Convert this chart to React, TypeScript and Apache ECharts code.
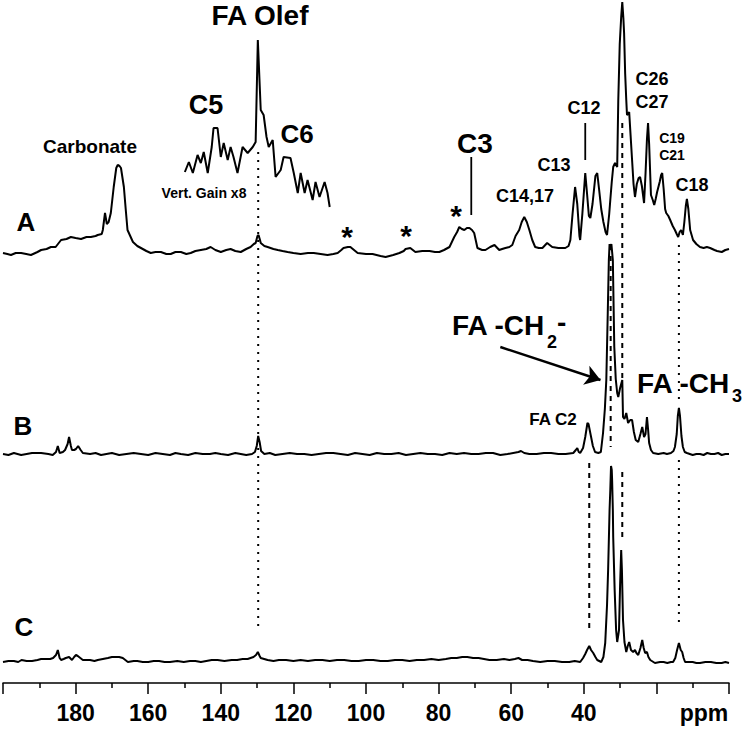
import React, { useEffect, useRef } from "react";
import * as echarts from "echarts";

// ---- Data (ppm, intensity above each trace's own baseline) ----
const xTickLabels = [40, 60, 80, 100, 120, 140, 160, 180];

const traceA: [number, number][] = [
  [200, 1], [198.8, 0], [197.8, -1], [196.5, 1], [195, 1], [193.6, 0], [192.3, -1], [190.5, 2], [189.5, 4], [188, 5], [186.8, 7], [185.5, 7],
  [184, 14], [182.5, 15], [181.3, 17], [180, 16], [178.5, 15], [177, 17], [175.8, 17], [174.5, 18], [173.9, 19],
  [172.8, 20], [172.5, 24], [171.9, 41], [171.4, 30], [170.9, 32], [170.3, 41], [169.5, 67], [168.8, 86],
  [168.4, 89], [167.9, 88], [167.5, 86], [166.7, 67], [166.2, 45], [165.7, 24], [164.2, 12], [163, 8], [162, 6],
  [160.5, 3], [159.3, 1], [158, 2], [156.5, 2], [155, 0], [153.8, 0], [152.5, 2], [151, 2], [149.5, 0],
  [148.3, 1], [147, 3], [145.5, 4], [144, 5], [142.8, 7], [141.5, 4], [140, 2], [138.5, 4], [137.3, 5],
  [136, 3], [134.5, 2], [133, 5], [131.8, 7], [130.9, 10], [130.4, 11], [129.9, 18], [129.6, 19], [129.2, 14],
  [129.0, 11], [128, 8], [127.1, 7], [125.5, 5], [124.3, 4], [123, 3], [121.6, 2], [120, 1], [118, 0],
  [116, 1], [114.4, 1], [112.5, 0], [110.6, -1], [109, 0], [107.8, 1], [106.8, 4], [106.2, 6], [105, 7],
  [104.3, 7], [103.3, 4], [102.3, 1], [100, 0], [98.2, 0], [96, -2], [94.6, -3], [92.5, -1], [90.8, 1],
  [89.6, 3], [89.1, 5], [87.8, 6], [86.4, 2], [84.5, 3], [82.5, 3], [81, 2], [79.8, 2], [78.5, 4], [77, 7],
  [75.7, 17], [74.9, 22], [74.3, 27], [73.6, 25], [72.9, 24], [72.2, 26], [71.5, 26], [70.8, 24], [70.2, 21],
  [69.3, 6], [68, 4], [67.1, 4], [65.8, 7], [64.6, 9], [63.3, 4], [62.5, 5], [61.6, 6], [60.5, 7], [59.7, 9],
  [58.8, 18], [57.8, 24], [57.1, 32], [56.4, 37], [55.7, 32], [55.0, 24], [54.2, 14], [53.4, 7], [52.4, 6],
  [51.4, 6], [50.1, 11], [48.7, 7], [47, 6], [45.1, 6], [44.2, 8], [43.7, 14], [43.1, 40], [42.4, 67],
  [41.8, 50], [41.2, 18], [41.0, 14], [40.4, 40], [39.6, 81], [39.1, 60], [38.6, 38], [38.2, 36], [37.6, 50],
  [36.8, 78], [36.3, 81], [35.8, 65], [35.2, 45], [34.6, 32], [34.0, 22], [33.6, 19], [33.0, 40], [32.7, 54],
  [32.3, 72], [31.9, 87], [31.4, 91], [30.8, 87], [30.5, 154], [30.1, 210], [29.7, 237], [29.4, 252],
  [29.1, 236], [28.9, 221], [28.6, 180], [28.3, 154], [28.1, 139], [27.8, 140], [27.5, 142], [27.1, 118],
  [26.7, 94], [26.3, 70], [25.9, 57], [25.4, 70], [24.9, 76], [24.5, 77], [24.0, 68], [23.4, 51], [23.0, 80],
  [22.6, 115], [22.3, 131], [22.0, 110], [21.5, 59], [21.0, 54], [20.6, 49], [20.2, 55], [19.8, 62],
  [19.1, 72], [18.7, 79], [18.4, 81], [18.0, 65], [17.6, 45], [17.3, 41], [16.7, 38], [16.2, 34], [15.5, 28],
  [14.9, 24], [14.4, 20], [14.0, 17], [13.6, 22], [13.2, 24], [12.7, 19], [12.3, 32], [11.9, 48], [11.6, 55],
  [11.2, 45], [10.7, 24], [9.9, 14], [9, 10], [8.0, 7], [7, 6], [6.1, 7], [5.2, 6], [4, 4], [3.3, 3], [2, 2], [1, 4], [0, 5],
];

const traceAGain: [number, number][] = [
  [149.9, 82], [148.8, 92], [147.7, 81], [146.4, 99], [145.5, 91], [144.7, 102], [143.6, 81], [142.5, 107],
  [142.0, 126], [140.9, 126], [140.0, 97], [139.2, 111], [138.1, 94], [137.3, 107], [136.5, 97], [135.4, 81],
  [134.0, 107], [132.6, 101], [131.2, 107], [130.4, 112], [129.8, 214], [129.0, 144], [128.2, 139],
  [127.4, 117], [126.8, 107], [125.7, 114], [124.9, 77], [123.5, 84], [122.7, 97], [120.8, 96], [119.9, 81],
  [118.8, 61], [118.0, 81], [116.9, 61], [116.1, 74], [114.7, 54], [113.9, 72], [112.8, 57], [111.4, 72],
  [110.6, 61], [110.0, 47],
];

const traceB: [number, number][] = [
  [200, 0], [198.5, -1], [197, 1], [195, -1], [193.5, 0], [192, 1], [189.5, 1], [187.5, 0], [186.3, -1], [185.4, 2], [184.9, 8],
  [184.4, 1], [183.5, 2], [182.9, 4], [182.2, 10], [181.8, 17], [181.3, 8], [181.0, 4], [180.4, 4],
  [179.9, 5], [179.3, 8], [178.6, 4], [178.0, 1], [176, 0], [174.5, 1], [173, -1], [171.5, 0], [170, 1], [168, -1], [166, 0], [164, 1], [162, 0], [160, -1], [158, 1],
  [156, 0], [154, -1], [152.5, 1], [151, 0], [149, -1], [147, 1], [145, 0], [143, 0], [141.5, 1], [140, 0], [138, -1], [136, 1], [134.5, 0], [133, -1], [131.4, 0], [130.6, 2], [130.1, 8],
  [129.7, 18], [129.3, 12], [128.9, 3], [128, 0], [126.5, 1], [125, -1], [123, 0], [121, 1], [119, 0], [117, 0], [115, -1], [113, 0], [111, 1], [109, 1], [107, 0], [105, -1],
  [103, 1], [101, 0], [99, -1], [97, 1], [95, 0], [93, 0], [91, 1], [89, -1], [87, 0], [85, 1], [83, 0], [81, 0], [79, -1], [77, 1], [75, 0], [73, 1], [71, 0], [69, 0], [67, 1], [65, 1], [63, -1], [61, 0], [58, 2],
  [57.3, 3], [56.4, 1], [55, 0], [53, 0], [51, 1], [49, 1], [47, 0], [45, 0], [42.9, 1], [42.2, 4], [41.8, 6], [41.4, 2], [41.0, 1],
  [40.2, 6], [39.6, 17], [39.0, 31], [38.7, 30], [38.1, 19], [37.5, 8], [36.9, 2], [36.0, 1], [35.3, 2],
  [34.7, 21], [34.2, 45], [33.8, 74], [33.4, 141], [33.1, 194], [32.9, 210], [32.7, 204], [32.4, 210],
  [32.0, 194], [31.6, 107], [31.2, 75], [30.8, 61], [30.5, 57], [30.0, 66], [29.4, 74], [29.2, 37],
  [28.8, 35], [28.3, 41], [27.8, 31], [27.2, 34], [26.7, 34], [26.2, 22], [25.7, 14], [25.0, 12], [24.4, 20],
  [23.9, 27], [23.4, 17], [23.0, 20], [22.6, 37], [22.3, 25], [22.0, 11], [21.5, 4], [20.9, 1], [19.5, 0],
  [18, 1], [17.1, 0], [16, 1], [15.3, 3], [14.9, 7], [14.4, 20], [14.1, 38], [13.8, 46], [13.5, 38],
  [13.1, 18], [12.7, 7], [12.2, 2], [11.6, 1], [10, -1], [9, 0], [8, 0], [7, -1], [6, 1], [5, 0], [4, 0], [3, 1], [2, -1], [1, 0], [0, 0],
];

const traceC: [number, number][] = [
  [200, -2], [198.5, -1], [197, -1], [195.8, -2], [194.9, 0], [193.5, -1], [192, -1], [190.5, 0], [189.5, 1], [187, 1], [186.2, 2], [185.4, 5], [184.9, 10],
  [184.4, 2], [184.0, 0], [183.3, 1], [182.7, 2], [181.8, 3], [181.0, 0], [180.4, 3], [179.9, 5], [179.4, 4],
  [178.7, 2], [178.0, 0], [176, 0], [174.8, -1], [173.9, 0], [172.5, 1], [171.1, 2], [170, 3], [168.9, 3], [168, 3],
  [167, 2], [165.6, -2], [164, -1], [163, -1], [161.5, -2], [160, -2], [158.5, -1], [157, -1], [155.5, -2], [154, -2], [152, -1], [150.2, -2], [148.5, -1], [147, -1], [145.5, -2], [144, -1],
  [142.5, 0], [140.9, 0], [139, -1], [137, 0], [135.5, 0], [134, 1], [132.6, 1], [131.0, 3], [130.3, 5], [129.8, 8], [129.3, 4], [129.0, 2],
  [127.1, 0], [125.5, -1], [124, 0], [122, 0], [120, -1], [118, 0], [116, -1], [114, 0], [112, 0], [110, -1], [108, 0], [106, 0], [104, -1], [102, -1], [100, 0], [98, 0], [96, -1], [94, -1],
  [92, 0], [90, 0], [88, -1], [86, 0], [84, 0], [82, 1], [80, 0], [78, 1], [76.5, 2], [75, 2], [73.5, 3], [72.1, 3], [70.5, 2], [69, 2], [67.5, 1], [66, 0], [64, 0], [62, 1], [60.5, 0], [59, 1], [58, 2], [57, 0],
  [55.5, 0], [54, -1], [52, -2], [50, -1], [48, -1], [46, -2], [44, -2], [42.5, -1], [41.0, -2], [40.2, 2], [39.6, 6], [39.1, 10], [38.5, 14],
  [38.0, 10], [37.4, 7], [36.8, 3], [36.3, 0], [35.2, -2], [34.6, 3], [34.1, 17], [33.6, 55], [33.3, 90],
  [32.9, 150], [32.7, 170], [32.5, 194], [32.3, 190], [32.2, 180], [32.0, 150], [31.9, 123], [31.5, 70],
  [31.1, 30], [30.8, 18], [30.5, 25], [30.3, 30], [30.0, 75], [29.7, 110], [29.5, 90], [29.2, 40],
  [28.8, 18], [28.3, 8], [27.9, 14], [27.5, 18], [27.0, 10], [26.4, 8], [25.9, 10], [25.5, 7], [25.0, 5],
  [24.4, 12], [23.9, 20], [23.5, 12], [23.1, 7], [22.6, 8], [22.2, 3], [21.7, 0], [20.4, -3], [19, -2], [18, -2],
  [17, -3], [16, -2], [15.4, -2], [14.8, 2], [14.3, 10], [13.8, 17], [13.3, 10], [12.9, 8], [12.5, 2], [12.1, -2],
  [11, -2], [10, -2], [9, -3], [8, -3], [6.5, -2], [5, -2], [3.5, -3], [2, -3], [1, -2], [0, -3],
];

// vertical guide lines: [ppm, fromLevel, toLevel] in y-axis units
const dottedGuides: [number, number, number][] = [
  [129.7, 531, 55],
  [13.8, 438, 280],
  [13.8, 223, 58],
];
const dashedGuides: [number, number, number][] = [
  [38.5, 220, 50],
  [29.4, 560, 305],
  [29.4, 211, 143],
  [32.6, 427, 236],
];
const solidGuides: [number, number, number][] = [
  [71.0, 526, 468],
  [39.6, 560, 523],
];
const arrowFrom: [number, number] = [63.0, 336];
const arrowTo: [number, number] = [35.4, 303];

// ---- layout ----
const OFFSET_A = 429;
const OFFSET_B = 229;
const OFFSET_C = 23;
const FONT = '"Liberation Sans", Arial, Helvetica, sans-serif';

const centeredLabels: { t: string; x: number; y: number; s: number }[] = [
  { t: "FA Olef", x: 260, y: 15, s: 28 },
  { t: "C5", x: 206, y: 105, s: 27 },
  { t: "C6", x: 297, y: 134, s: 26 },
  { t: "Carbonate", x: 90, y: 146, s: 19 },
  { t: "Vert. Gain x8", x: 204, y: 193, s: 14 },
  { t: "*", x: 347, y: 236, s: 30 },
  { t: "*", x: 406, y: 235, s: 30 },
  { t: "*", x: 456, y: 215, s: 30 },
  { t: "C3", x: 475, y: 143, s: 28 },
  { t: "C14,17", x: 525, y: 196, s: 18 },
  { t: "C13", x: 554, y: 165, s: 18 },
  { t: "C12", x: 584, y: 108, s: 18 },
  { t: "C26", x: 652, y: 79, s: 18 },
  { t: "C27", x: 652, y: 102, s: 18 },
  { t: "C19", x: 672, y: 138, s: 14 },
  { t: "C21", x: 672, y: 155, s: 14 },
  { t: "C18", x: 692, y: 185, s: 18 },
  { t: "FA C2", x: 553, y: 419, s: 17 },
  { t: "A", x: 26, y: 222, s: 26 },
  { t: "B", x: 23, y: 426, s: 26 },
  { t: "C", x: 24, y: 627, s: 26 },
  { t: "ppm", x: 704, y: 713, s: 23 },
];
const leftLabels: { t: string; x: number; y: number; s: number }[] = [
  { t: "FA -CH", x: 452, y: 325, s: 28 },
  { t: "2", x: 547, y: 342, s: 18 },
  { t: "-", x: 557, y: 322, s: 28 },
  { t: "FA -CH", x: 637, y: 383, s: 28 },
  { t: "3", x: 732, y: 396, s: 18 },
];

const shift = (d: [number, number][], off: number) => d.map(([x, y]) => [x, y + off]);

export default function App() {
  const ref = useRef<HTMLDivElement>(null);
  useEffect(() => {
    if (!ref.current) return;
    const chart = echarts.init(ref.current, undefined, { renderer: "svg" });
    const traceStyle = { color: "#000", width: 2 };
    const mkTrace = (name: string, data: number[][]) => ({
      type: "line",
      name,
      data,
      showSymbol: false,
      symbol: "none",
      smooth: false,
      silent: true,
      clip: false,
      lineStyle: traceStyle,
      z: 3,
    });
    const mkGuide = (g: [number, number, number], type: any, width: number) => ({
      type: "line",
      data: [[g[0], g[1]], [g[0], g[2]]],
      showSymbol: false,
      symbol: "none",
      silent: true,
      lineStyle: { color: "#000", width, type, cap: "butt" },
      z: 2,
    });
    const graphics: any[] = [];
    centeredLabels.forEach((l) =>
      graphics.push({
        type: "text",
        x: l.x,
        y: l.y,
        silent: true,
        style: {
          text: l.t,
          font: `bold ${l.s}px ${FONT}`,
          fill: "#000",
          align: "center",
          verticalAlign: "middle",
          textAlign: "center",
          textVerticalAlign: "middle",
        },
      })
    );
    leftLabels.forEach((l) =>
      graphics.push({
        type: "text",
        x: l.x,
        y: l.y,
        silent: true,
        style: {
          text: l.t,
          font: `bold ${l.s}px ${FONT}`,
          fill: "#000",
          align: "left",
          verticalAlign: "middle",
          textAlign: "left",
          textVerticalAlign: "middle",
        },
      })
    );
    chart.setOption({
      animation: false,
      backgroundColor: "#fff",
      grid: { left: 2, right: 16, top: 0, bottom: 48, containLabel: false },
      xAxis: {
        type: "value",
        min: 0,
        max: 200,
        interval: 20,
        inverse: true,
        axisLine: { show: true, lineStyle: { color: "#000", width: 1.5 } },
        axisTick: { show: true, length: 11, lineStyle: { color: "#000", width: 1.5 } },
        minorTick: { show: true, splitNumber: 2, length: 5, lineStyle: { color: "#000", width: 1.5 } },
        splitLine: { show: false },
        minorSplitLine: { show: false },
        axisLabel: {
          margin: 18,
          color: "#000",
          fontWeight: "bold",
          fontSize: 23,
          fontFamily: FONT,
          formatter: (v: number) => (xTickLabels.indexOf(v) >= 0 ? String(v) : ""),
        },
      },
      yAxis: { type: "value", min: 0, max: 683, show: false },
      series: [
        mkTrace("A", shift(traceA, OFFSET_A)),
        mkTrace("A x8", shift(traceAGain, OFFSET_A)),
        mkTrace("B", shift(traceB, OFFSET_B)),
        mkTrace("C", shift(traceC, OFFSET_C)),
        ...dottedGuides.map((g) => mkGuide(g, [2, 6], 2)),
        ...dashedGuides.map((g) => mkGuide(g, [5, 5], 2)),
        ...solidGuides.map((g) => mkGuide(g, "solid", 1.8)),
        {
          type: "line",
          data: [],
          silent: true,
          markLine: {
            silent: true,
            animation: false,
            symbol: ["none", "arrow"],
            symbolSize: 15,
            label: { show: false },
            lineStyle: { color: "#000", width: 2.5, type: "solid" },
            data: [[{ coord: arrowFrom }, { coord: arrowTo }]],
          },
        },
      ],
      graphic: graphics,
    });
    return () => chart.dispose();
  }, []);
  return (
    <div
      ref={ref}
      style={{ position: "fixed", left: 0, top: 0, width: 745, height: 731, background: "#fff" }}
    />
  );
}
